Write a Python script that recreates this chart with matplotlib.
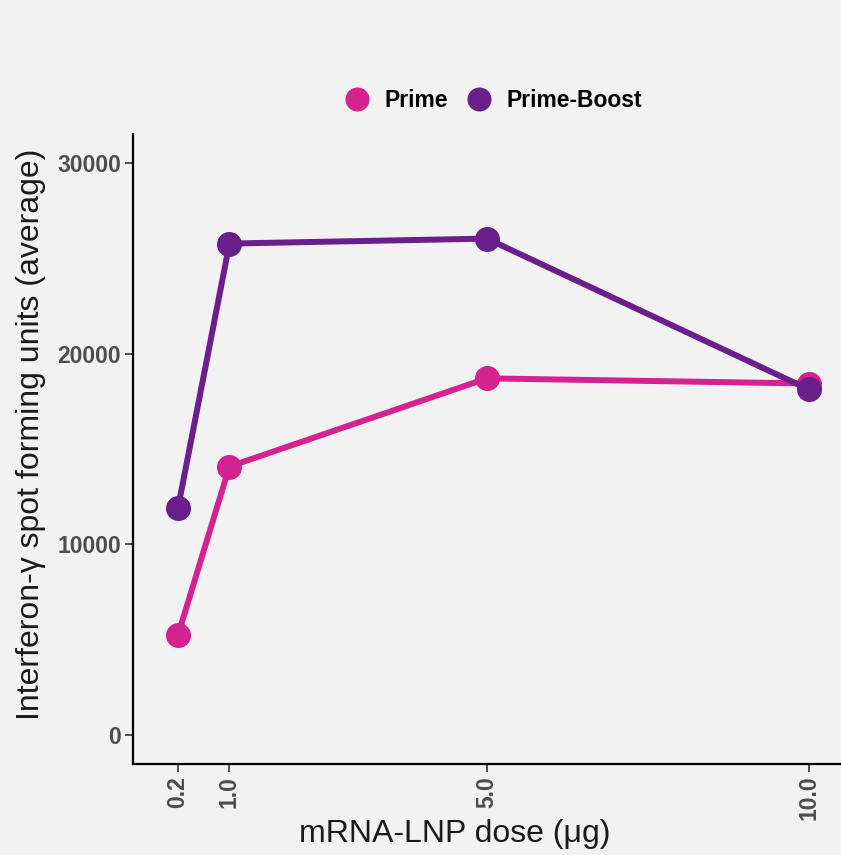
import matplotlib
matplotlib.use("Agg")
import matplotlib.pyplot as plt

# dose (ug) and IFN-g spot forming units
dose = [0.2, 1.0, 5.0, 10.0]
prime = [5240, 14080, 18700, 18430]
prime_boost = [11900, 25760, 26020, 18120]
dose_labels = ["0.2", "1.0", "5.0", "10.0"]
y_ticks = [0, 10000, 20000, 30000]

plt.rcParams['font.family'] = ['Liberation Sans', 'DejaVu Sans']

bg = '#F2F2F2'
fig = plt.figure(figsize=(8.41, 8.55), dpi=100, facecolor=bg)
ax = fig.add_axes([0.158, 0.1064, 0.842, 0.7369], facecolor=bg)

ax.plot(dose, prime, color='#D42390', lw=4.3, marker='o', ms=17, label='Prime', zorder=3)
ax.plot(dose, prime_boost, color='#6A1F8D', lw=4.3, marker='o', ms=17, label='Prime-Boost', zorder=3)

ax.set_xlim(-0.5, 10.5)
ax.set_ylim(-1500, 31500)
ax.set_xticks(dose)
ax.set_xticklabels(dose_labels, rotation=90)
ax.set_yticks(y_ticks)
ax.set_yticklabels([str(v) for v in y_ticks])
for lab in ax.get_xticklabels() + ax.get_yticklabels():
    lab.set_fontweight('bold')
    lab.set_color('#4D4D4D')
    lab.set_fontsize(16.5)
ax.tick_params(length=5.5, width=1.2, color='#333333', pad=3)

for s in ['top', 'right']:
    ax.spines[s].set_visible(False)
for s in ['left', 'bottom']:
    ax.spines[s].set_linewidth(1.6)
    ax.spines[s].set_color('black')

ax.set_xlabel('mRNA-LNP dose (μg)', fontsize=23, color='#1A1A1A')
ax.set_ylabel('Interferon-γ spot forming units (average)', fontsize=23, color='#1A1A1A')
ax.xaxis.set_label_coords(0.455, -0.087)
ax.yaxis.set_label_coords(-0.122, 0.524)

leg = fig.legend(loc='center', bbox_to_anchor=(0.588, 0.882), ncol=2, frameon=False,
                 handlelength=0.9, handletextpad=0.75, columnspacing=0.9,
                 prop={'weight': 'bold', 'size': 16.5})
for h in leg.legend_handles:
    h.set_linestyle('none')
    h.set_markersize(16.3)

fig.savefig('out.png', dpi=100, facecolor=bg)
